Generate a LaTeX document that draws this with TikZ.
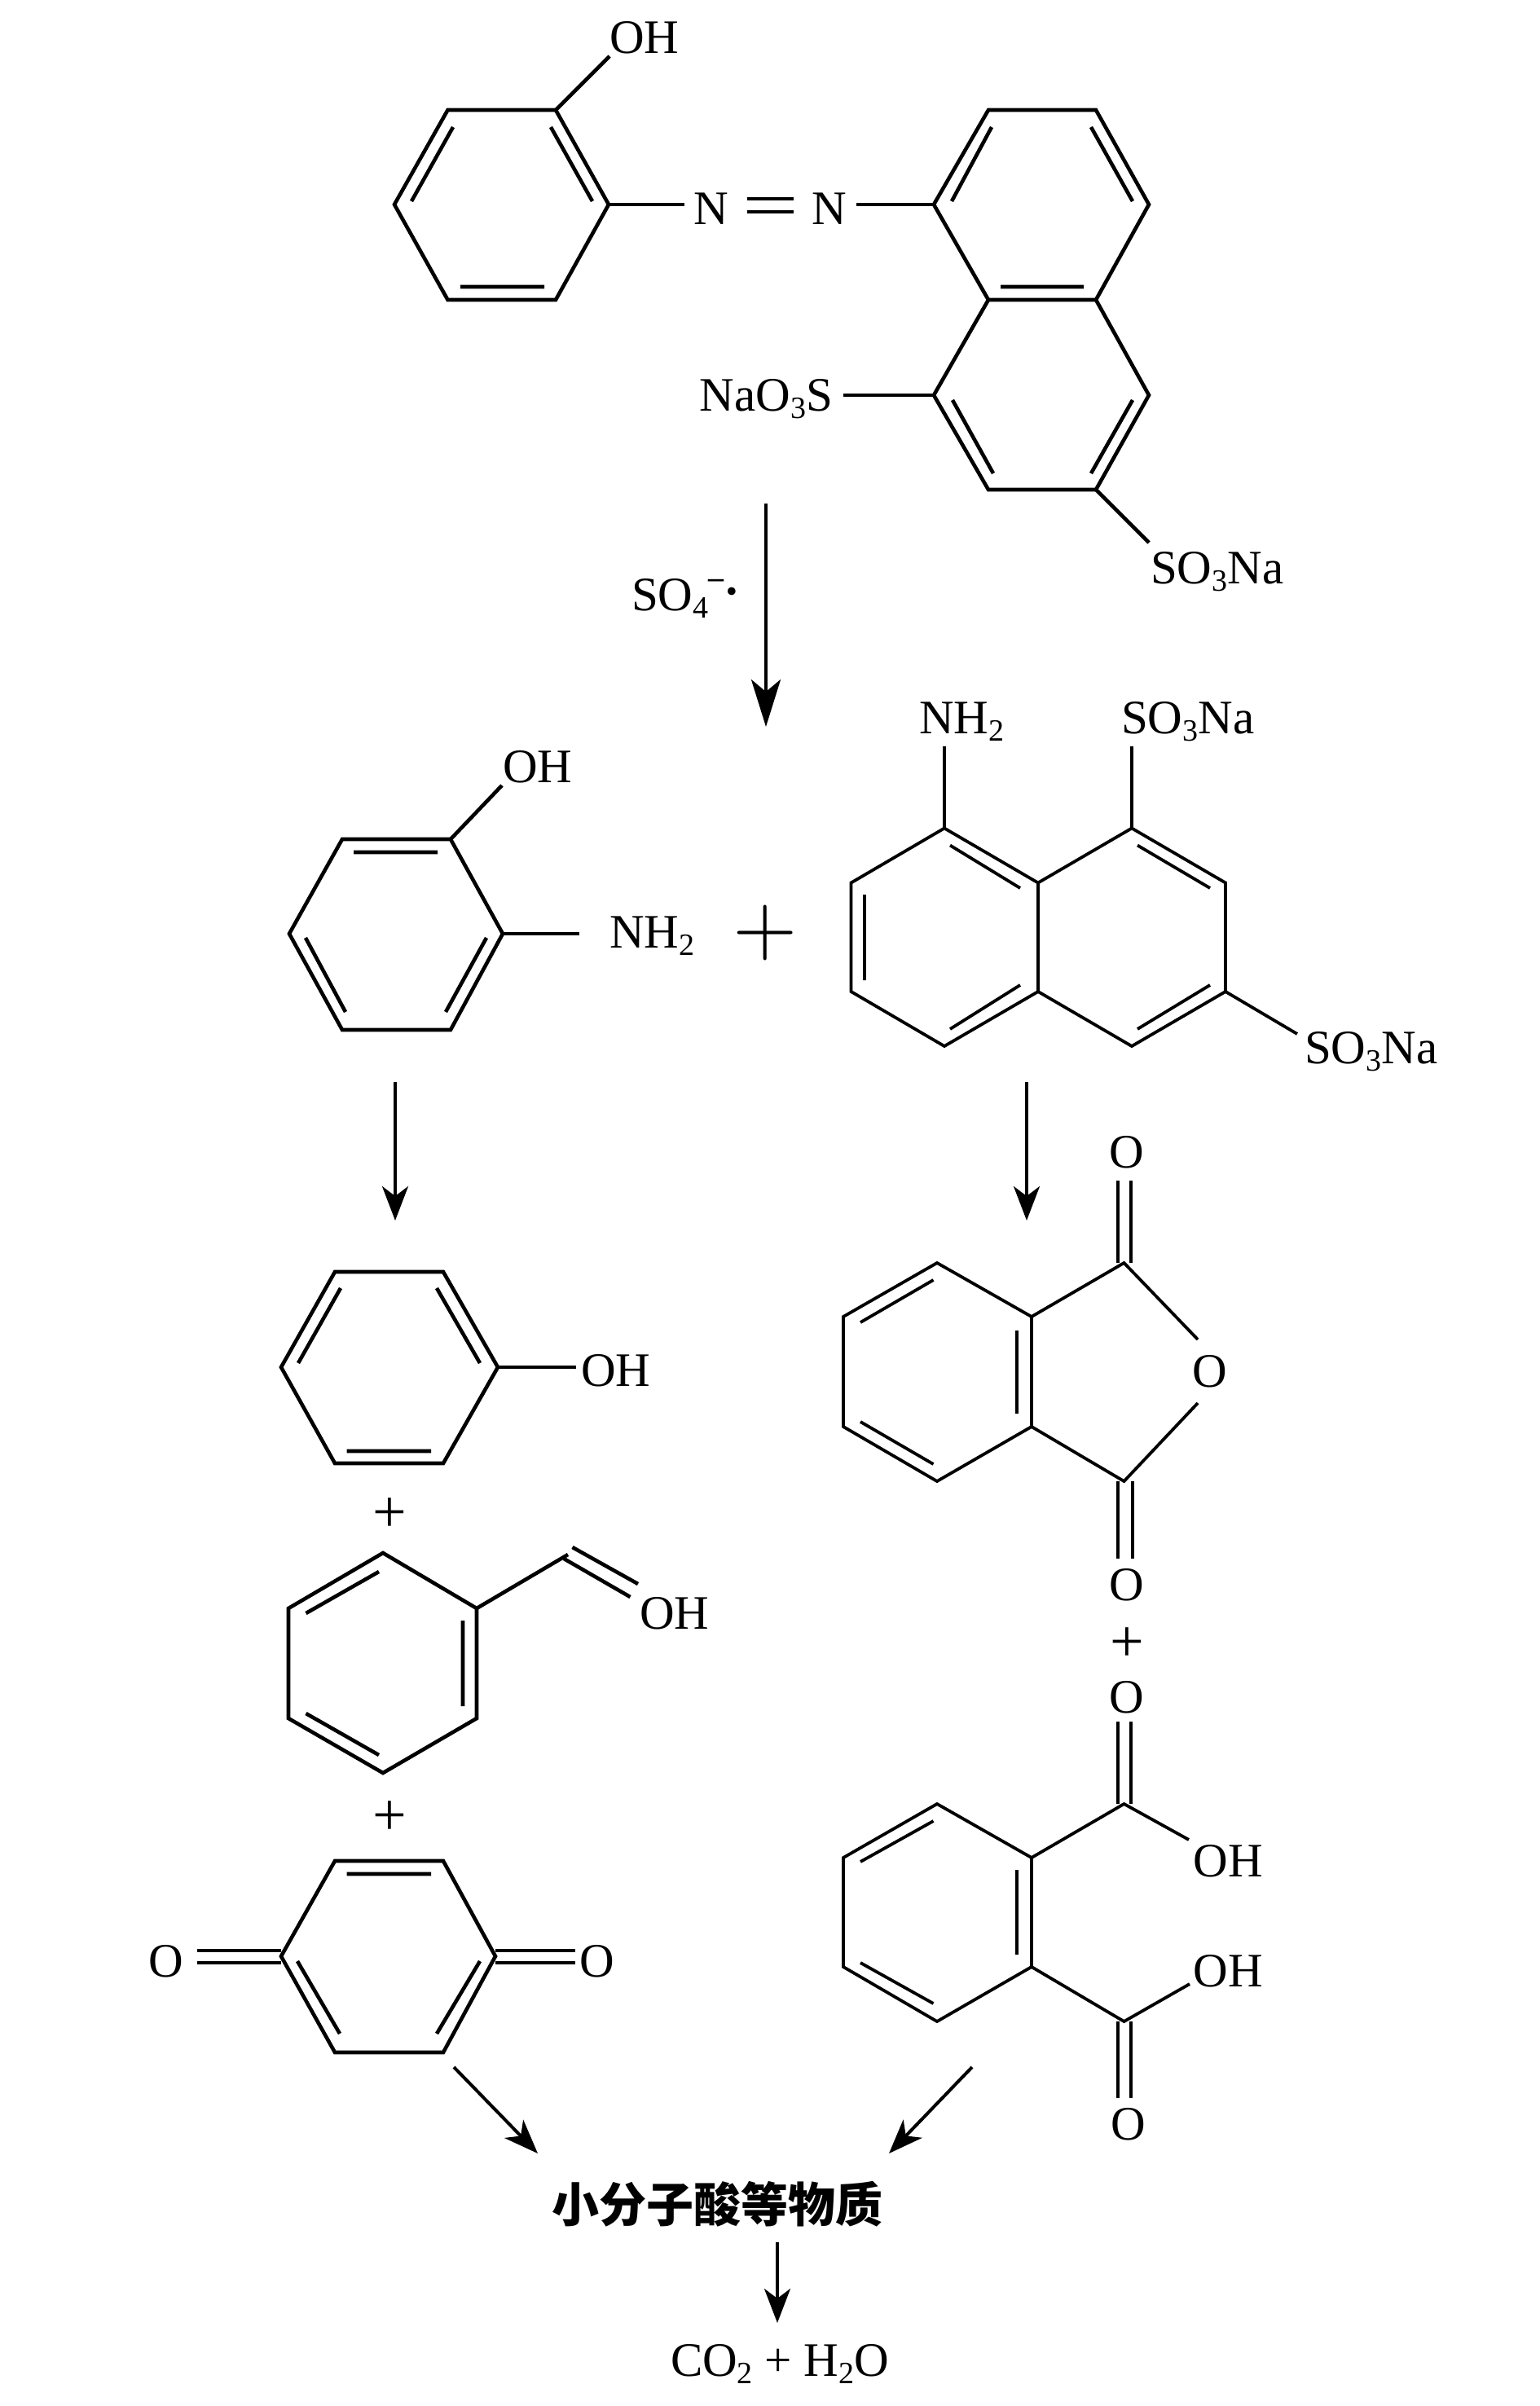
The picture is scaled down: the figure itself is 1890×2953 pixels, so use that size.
\documentclass[tikz,border=0pt]{standalone}
\usepackage{fontspec}
\usepackage{graphicx}
\setmainfont{Liberation Serif}
\newfontfamily\cjkfont{Noto Sans CJK SC}
\usetikzlibrary{arrows.meta}
\newcommand{\lowidx}[1]{\raisebox{-9pt}{\fontsize{38}{38}\selectfont #1}}
\tikzset{
  bond/.style={line width=4.6pt,line join=miter,line cap=butt},
  bondt/.style={line width=3.8pt,line join=miter,line cap=butt},
  lab/.style={inner sep=0pt,outer sep=0pt,font=\fontsize{59}{60}\selectfont},
  plussign/.style={inner sep=0pt,outer sep=0pt,font=\fontsize{74}{76}\selectfont},
  rxnA/.style={line width=4.5pt,-{Stealth[length=58pt,width=36pt,inset=15pt]}},
  rxnB/.style={line width=4pt,-{Stealth[length=42pt,width=32pt,inset=12pt]}},
}
\begin{document}
\begin{tikzpicture}[x=1pt,y=-1pt]
\useasboundingbox (0,0) rectangle (1890,2953);

% --- azo dye ---
\draw[bond] (549.5,135)--(682,135)--(747,251)--(682,368)--(549.5,368)--(484,251)--cycle;
\draw[bond] (556,156)--(505,247) (676,156)--(727,247) (565,352)--(668,352);
\draw[bond] (682,135)--(748,69);
\node[lab,anchor=base] (oh1) at (791,65) {OH};
\node[lab,anchor=base] (n1) at (873,275) {N};
\node[lab,anchor=base] (n2) at (1018,275) {N};
\draw[bond] (747,251)--(840,251);
\draw[bond] (917,244)--(974,244) (917,260)--(974,260);
\draw[bond] (1051,251)--(1146,251);
\draw[bond] (1213,135)--(1345,135)--(1410,251)--(1345,368)--(1213,368)--(1146,251)--cycle;
\draw[bond] (1213,368)--(1146,485)--(1213,601)--(1345,601)--(1410,485)--(1345,368);
\draw[bond] (1217,156)--(1168,247) (1339,156)--(1390,247) (1228,352)--(1330,352);
\draw[bond] (1169,491)--(1219,581) (1390,491)--(1339,581);
\draw[bond] (1035,485)--(1146,485);
\node[lab,anchor=base east] (nao3s) at (1022,504) {NaO\lowidx{3}S};
\draw[bond] (1345,601)--(1410,666);
\node[lab,anchor=base west] (so3na1) at (1412,716) {SO\lowidx{3}Na};

% --- first arrow ---
\coordinate (a1s) at (940,618);
\coordinate (a1e) at (940,892);
\draw[rxnA] (a1s)--(a1e);
\node[lab,anchor=base west] (so4) at (775,749) {SO\lowidx{4}\raisebox{28pt}{\fontsize{38}{38}\selectfont\bfseries –}\raisebox{4pt}{\bfseries ·}};

% --- aminophenol ---
\draw[bond] (420,1030)--(553,1030)--(617,1146)--(553,1264)--(420,1264)--(355,1146)--cycle;
\draw[bond] (434,1046)--(537,1046) (597,1151)--(547,1242) (375,1151)--(424,1242);
\draw[bond] (553,1030)--(616,964);
\draw[bond] (617,1146)--(711,1146);
\node[lab,anchor=base] (oh2) at (660,960) {OH};
\node[lab,anchor=base west] (nh2a) at (748,1163) {NH\lowidx{2}};
\node[inner sep=0pt,outer sep=0pt] (bigplus) at (939,1145) {\scalebox{10.2}{$+$}};

% --- amino naphthalene ---
\draw[bondt] (1159,1016.5)--(1274,1083.5)--(1274,1217)--(1159,1284)--(1044.5,1217)--(1044.5,1083.5)--cycle;
\draw[bondt] (1274,1083.5)--(1389,1016.5)--(1504,1083.5)--(1504,1217)--(1389,1284)--(1274,1217);
\draw[bondt] (1166,1037.5)--(1252,1090) (1396,1037.5)--(1485,1090) (1061,1098)--(1061,1203);
\draw[bondt] (1252,1209)--(1166,1263) (1485,1209)--(1396,1263);
\draw[bondt] (1159,916)--(1159,1016.5);
\draw[bondt] (1389,916)--(1389,1016.5);
\draw[bondt] (1504,1217)--(1592,1269);
\node[lab,anchor=base west] (nh2b) at (1128,900) {NH\lowidx{2}};
\node[lab,anchor=base west] (so3na2) at (1376,900) {SO\lowidx{3}Na};
\node[lab,anchor=base west] (so3na3) at (1601,1305) {SO\lowidx{3}Na};

% --- second row arrows ---
\coordinate (a2s) at (485,1328);
\coordinate (a2e) at (485,1498);
\draw[rxnB] (a2s)--(a2e);
\coordinate (a3s) at (1265,1328);
\coordinate (a3e) at (1265,1498);
\path (a3s) ++(-5,0) coordinate (a3t) (a3e) ++(-5,0) coordinate (a3u);
\draw[rxnB] (a3t)--(a3u);

% --- phenol ---
\begin{scope}[yshift=4pt]
\draw[bond] (411,1565)--(544,1565)--(611,1682)--(544,1800)--(411,1800)--(345,1682)--cycle;
\draw[bond] (418,1585)--(366,1677) (536,1585)--(589,1677) (425.5,1785)--(529,1785);
\draw[bond] (611,1682)--(707,1682);
\node[lab,anchor=base] (oh3) at (756,1705) {OH};
\end{scope}
\node[plussign] (plus1) at (478,1860) {+};

% --- benzaldehyde-like ---
\begin{scope}[yshift=6pt]
\draw[bond] (470,1912)--(585,1980)--(585,2115)--(470,2182)--(354,2115)--(354,1980)--cycle;
\draw[bond] (465,1935)--(375.5,1986) (568,1995)--(568,2100) (375.5,2109)--(465,2160);
\draw[bond] (585,1980)--(697,1914);
\draw[bond] (702.5,1905)--(783,1950) (692,1919)--(773.5,1966);
\node[lab,anchor=base] (oh4) at (828,2005) {OH};
\end{scope}
\node[plussign] (plus2) at (478,2232) {+};

% --- quinone ---
\begin{scope}[yshift=7pt]
\draw[bond] (411,2291)--(544,2291)--(608,2408)--(544,2526)--(411,2526)--(345,2408)--cycle;
\draw[bond] (425.5,2307)--(529,2307) (365,2414)--(417,2503) (589,2414)--(536,2503);
\draw[bond] (608,2401)--(706,2401) (608,2416)--(706,2416);
\draw[bond] (242,2401)--(345,2401) (242,2416)--(345,2416);
\node[lab,anchor=base] (o1) at (204,2433) {O};
\node[lab,anchor=base] (o2) at (733,2433) {O};
\end{scope}

% --- anhydride ---
\begin{scope}[yshift=5pt]
\draw[bondt] (1150,1555)--(1266,1621)--(1266,1756)--(1150,1823)--(1035,1756)--(1035,1621)--cycle;
\draw[bondt] (1145.5,1576)--(1056,1628) (1248,1638)--(1248,1740) (1056,1750)--(1145.5,1802);
\draw[bondt] (1266,1621)--(1379.5,1555)--(1470,1649);
\draw[bondt] (1266,1756)--(1379.5,1823)--(1470,1727);
\draw[bondt] (1372,1454)--(1372,1555) (1388,1454)--(1388,1555);
\draw[bondt] (1372,1823)--(1372,1918) (1390,1823)--(1390,1918);
\node[lab,anchor=base] (o3) at (1383,1438) {O};
\node[lab,anchor=base] (o4) at (1485,1707) {O};
\node[lab,anchor=base] (o5) at (1383,1969) {O};
\end{scope}
\node[plussign] (plus3) at (1383,2019) {+};

% --- phthalic acid ---
\begin{scope}[yshift=6pt]
\node[lab,anchor=base] (o6) at (1383,2108) {O};
\draw[bondt] (1372,2119)--(1372,2220) (1388,2119)--(1388,2220);
\draw[bondt] (1150,2220)--(1266,2286)--(1266,2420)--(1150,2487)--(1035,2420)--(1035,2286)--cycle;
\draw[bondt] (1145.5,2241)--(1056,2291) (1248,2301)--(1248,2405) (1056,2415)--(1145.5,2465);
\draw[bondt] (1266,2286)--(1379.5,2220)--(1459,2264);
\draw[bondt] (1266,2420)--(1379.5,2487)--(1460,2441);
\draw[bondt] (1372,2487)--(1372,2581) (1388,2487)--(1388,2581);
\node[lab,anchor=base] (oh5) at (1507,2309) {OH};
\node[lab,anchor=base] (oh6) at (1507,2444) {OH};
\node[lab,anchor=base] (o7) at (1385,2632) {O};
\end{scope}

% --- final ---
\coordinate (a4s) at (557,2537);
\coordinate (a4e) at (660,2643);
\draw[rxnB] (a4s)--(a4e);
\coordinate (a5s) at (1193,2537);
\coordinate (a5e) at (1091,2643);
\draw[rxnB] (a5s)--(a5e);
\node[inner sep=0pt,outer sep=0pt,font=\cjkfont\bfseries\fontsize{58}{60}\selectfont] (acid) at (880,2705) {小分子酸等物质};
\coordinate (a6s) at (954,2752);
\coordinate (a6e) at (954,2851);
\draw[rxnB] (a6s)--(a6e);
\node[lab,anchor=base] (final) at (957,2916) {CO\lowidx{2} + H\lowidx{2}O};
\end{tikzpicture}
\end{document}
